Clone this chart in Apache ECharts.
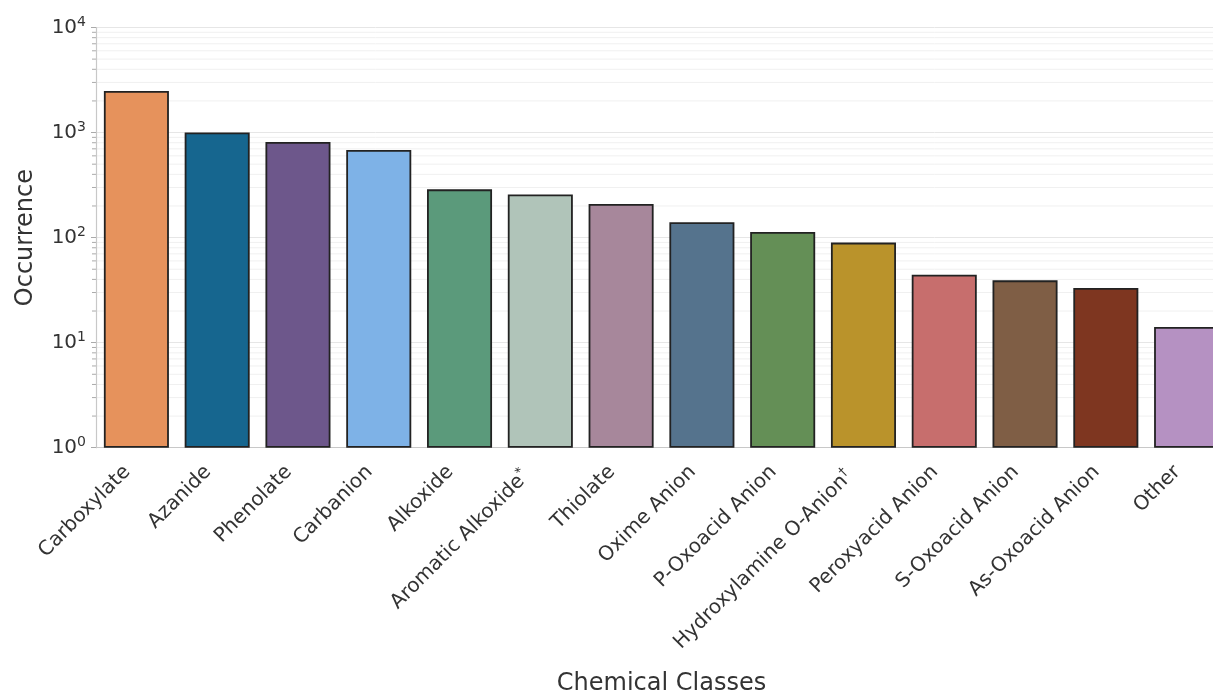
<!DOCTYPE html>
<html>
<head>
<meta charset="utf-8">
<script src="https://cdn.jsdelivr.net/npm/echarts@6/dist/echarts.min.js"></script>
<style>html,body{margin:0;padding:0;background:#fff;}#c{width:1213px;height:694px;}</style>
</head>
<body>
<div id="c"></div>
<script>
var categories = ['Carboxylate','Azanide','Phenolate','Carbanion','Alkoxide','Aromatic Alkoxide','Thiolate','Oxime Anion','P-Oxoacid Anion','Hydroxylamine O-Anion','Peroxyacid Anion','S-Oxoacid Anion','As-Oxoacid Anion','Other'];
var superscripts = ['','','','','','*','','','','\u2020','','','',''];
var values = [2485, 1000, 815, 684, 288, 257, 209, 140, 113, 89.6, 44.4, 39.2, 33.2, 14.1];
var colors = ['#E6925C','#16668F','#6D578B','#7EB2E7','#5B9A7B','#B0C4B9','#A7879B','#55738D','#648F56','#BA932B','#C76E6D','#7F5E45','#7E3620','#B591C2'];
var yTickExponents = [0, 1, 2, 3, 4];
var minorTickValues = [];
[1, 10, 100, 1000].forEach(function (d) { for (var k = 2; k <= 9; k++) minorTickValues.push(k * d); });

var FONT = 'DejaVu Sans';
var chart = echarts.init(document.getElementById('c'), null, {renderer: 'canvas'});

var option = {
  backgroundColor: '#ffffff',
  animation: false,
  grid: {left: 96, top: 27.5, width: 1131, height: 420.2, containLabel: false, outerBoundsMode: 'none'},
  xAxis: {
    type: 'category',
    data: categories,
    boundaryGap: true,
    axisLine: {show: true, lineStyle: {color: '#c8c8c8', width: 1.2}},
    axisTick: {show: false},
    splitLine: {show: false},
    axisLabel: {
      interval: 0,
      rotate: 45,
      margin: 12,
      padding: [0, 13, 0, 0],
      color: '#333333',
      fontFamily: FONT,
      fontSize: 20,
      formatter: function (v, i) {
        var s = superscripts[i];
        return s ? '{n|' + v + '}{s|' + s + '}' : '{n|' + v + '}';
      },
      rich: {
        n: {fontFamily: FONT, fontSize: 20, color: '#333333', lineHeight: 24},
        s: {fontFamily: FONT, fontSize: 13, color: '#333333', verticalAlign: 'top', lineHeight: 24, padding: [0, 7, 12, 0]}
      }
    },
    name: 'Chemical Classes',
    nameLocation: 'middle',
    nameGap: 224,
    nameTextStyle: {fontFamily: FONT, fontSize: 24, color: '#333333'}
  },
  yAxis: {
    type: 'log',
    logBase: 10,
    min: 1,
    max: 10000,
    axisLine: {show: true, lineStyle: {color: '#c8c8c8', width: 1.2}},
    axisTick: {show: true, length: 5, lineStyle: {color: '#aaaaaa', width: 1}},
    splitLine: {show: true, lineStyle: {color: '#e6e6e6', width: 1}},
    axisLabel: {
      margin: 10,
      formatter: function (v) {
        var e = Math.round(Math.log10(v));
        return '{b|10}{e|' + e + '}';
      },
      rich: {
        b: {fontFamily: FONT, fontSize: 20, color: '#333333', lineHeight: 24},
        e: {fontFamily: FONT, fontSize: 14, color: '#333333', verticalAlign: 'top', lineHeight: 24, padding: [0, 0, 12, 0]}
      }
    },
    name: 'Occurrence',
    nameLocation: 'middle',
    nameGap: 58,
    nameRotate: 90,
    nameTextStyle: {fontFamily: FONT, fontSize: 24, color: '#333333'}
  },
  series: [
    {
      type: 'custom',
      z: 0,
      silent: true,
      clip: false,
      data: minorTickValues.map(function (v) { return [0, v]; }),
      renderItem: function (params, api) {
        var cs = params.coordSys;
        var y = api.coord([0, api.value(1)])[1];
        return {
          type: 'group',
          children: [
            {type: 'line', shape: {x1: cs.x, y1: y, x2: cs.x + cs.width, y2: y}, style: {stroke: '#f0f0f0', lineWidth: 1}},
            {type: 'line', shape: {x1: cs.x - 4, y1: y, x2: cs.x, y2: y}, style: {stroke: '#aaaaaa', lineWidth: 1}}
          ]
        };
      }
    },
    {
      type: 'bar',
      z: 2,
      barCategoryGap: '19.5%',
      data: values.map(function (v, i) {
        return {value: v, itemStyle: {color: colors[i], borderColor: '#222222', borderWidth: 1.8}};
      })
    }
  ]
};
chart.setOption(option);
</script>
</body>
</html>
